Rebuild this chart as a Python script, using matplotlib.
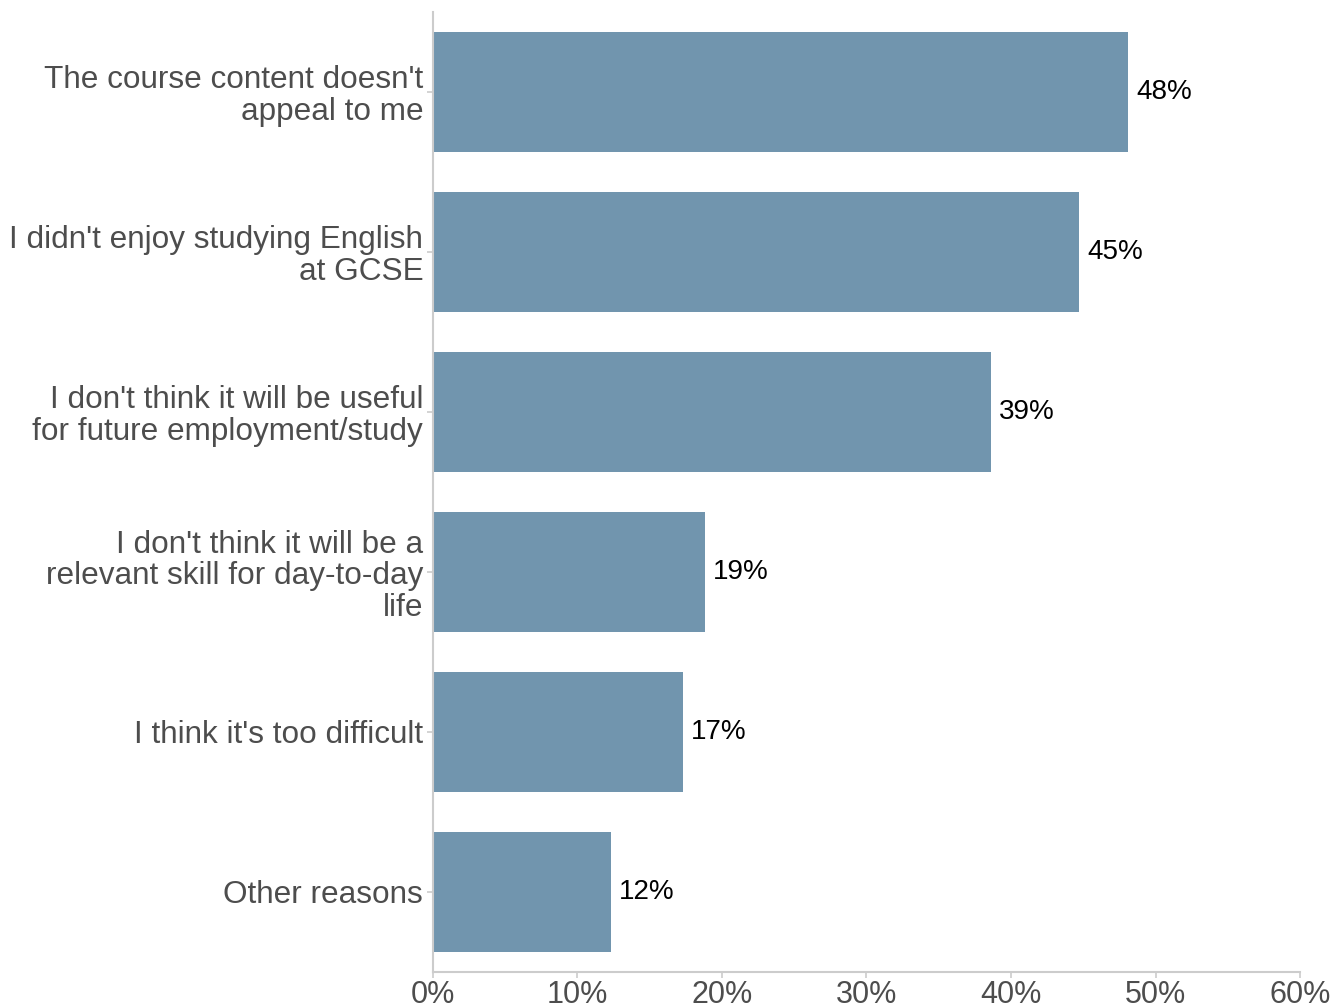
import matplotlib
matplotlib.use("Agg")
import matplotlib.pyplot as plt
from matplotlib.ticker import FuncFormatter

# reasons for not taking English, share of respondents (%)
reasons = [
    "The course content doesn't\nappeal to me",
    "I didn't enjoy studying English\nat GCSE",
    "I don't think it will be useful\nfor future employment/study",
    "I don't think it will be a\nrelevant skill for day-to-day\nlife",
    "I think it's too difficult",
    "Other reasons",
]
shares = [48.1, 44.7, 38.6, 18.8, 17.3, 12.3]

bar_color = "#7195AE"
axis_grey = "#CCCCCC"
text_grey = "#4D4D4D"

plt.rcParams["font.family"] = ["Liberation Sans", "DejaVu Sans"]

fig = plt.figure(figsize=(13.35, 10.07), dpi=100)
ax = fig.add_axes([0.3243, 0.0348, 0.6495, 0.9533])

y = list(range(len(reasons)))
ax.barh(y, shares, height=0.75, color=bar_color)

for yi, v in zip(y, shares):
    ax.annotate(f"{v:.0f}%", (v, yi), xytext=(6, 0), textcoords="offset points",
                va="center", ha="left", fontsize=20, color="black")

ax.set_ylim(5.5, -0.5)
ax.set_xlim(0, 60)
ax.set_yticks(y)
ax.set_yticklabels(reasons, fontsize=22.7, color=text_grey, linespacing=1.08)
ax.set_xticks(range(0, 61, 10))
ax.xaxis.set_major_formatter(FuncFormatter(lambda x, pos: f"{x:.0f}%"))
ax.tick_params(axis="x", labelsize=22, labelcolor=text_grey, color=axis_grey,
               length=4, width=1.2, pad=2)
ax.tick_params(axis="y", color=axis_grey, length=4, width=1.2, pad=3)

for side in ["top", "right"]:
    ax.spines[side].set_visible(False)
for side in ["left", "bottom"]:
    ax.spines[side].set_color(axis_grey)
    ax.spines[side].set_linewidth(1.5)

fig.savefig("out.png", dpi=100)
